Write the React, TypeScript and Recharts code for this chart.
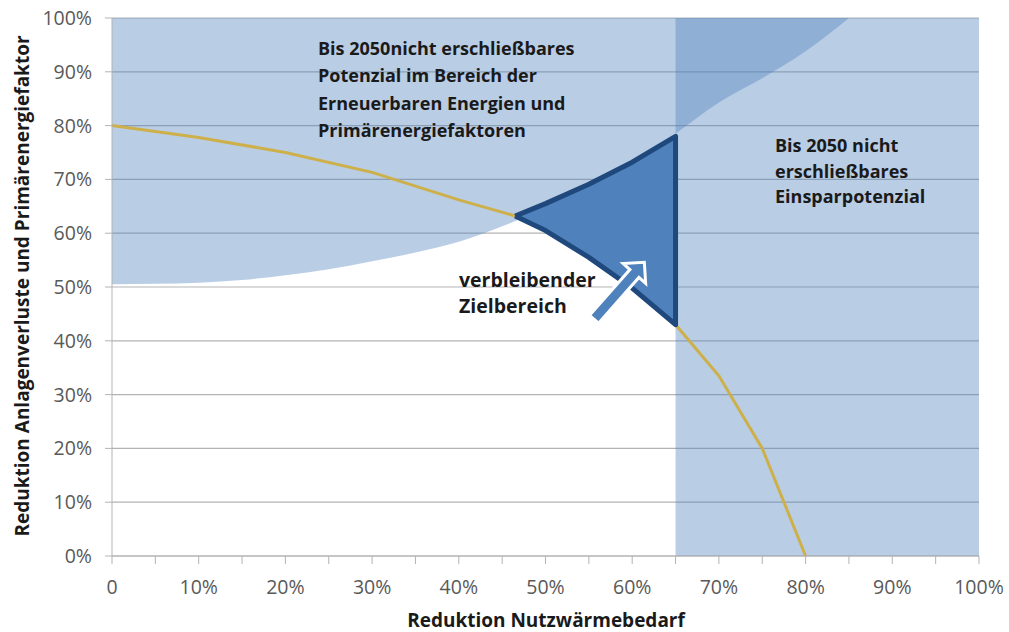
import React from 'react';
import { ComposedChart, Area, Line, XAxis, YAxis, CartesianGrid, ReferenceLine } from 'recharts';

// Achsen
const xTicks = [0, 5, 10, 15, 20, 25, 30, 35, 40, 45, 50, 55, 60, 65, 70, 75, 80, 85, 90, 95, 100];
const yTicks = [0, 10, 20, 30, 40, 50, 60, 70, 80, 90, 100];

// nicht erschließbares Potenzial (EE / Primärenergiefaktoren): untere Grenze, oben 100 %
const potX = [0, 5, 10, 15, 20, 25, 30, 35, 40, 45, 50, 55, 60, 65, 70, 75, 80, 85];
const potLow = [50.5, 50.6, 50.8, 51.3, 52.2, 53.3, 54.8, 56.4, 58.4, 61.3, 64.6, 68.4, 72.8, 78.5, 84.3, 88.8, 93.8, 100];

// nicht erschließbares Einsparpotenzial
const saveX = [65, 100];

// Kurve Reduktion Nutzwärme vs. Anlagenverluste
const curveX = [0, 10, 20, 30, 40, 46.5, 50, 55, 60, 65, 70, 75, 80];
const curveY = [80, 77.8, 75, 71.3, 66.2, 63.2, 60.5, 55.5, 49.8, 43, 33.5, 20, 0];

// verbleibender Zielbereich
const targetX = [46.5, 50, 55, 60, 65];
const targetUpper = [63.2, 65.5, 69.1, 73.2, 78];
const targetLower = [63.2, 60.5, 55.5, 49.8, 43];

// Pfeil (Start / Spitze)
const arrowFrom = { x: 55.6, y: 44.0 };
const arrowTo = { x: 61.4, y: 54.6 };

const potData = potX.map((x, i) => ({ x, range: [potLow[i], 100] }));
const saveData = saveX.map((x) => ({ x, range: [0, 100] }));
const curveData = curveX.map((x, i) => ({ x, y: curveY[i] }));
const targetData = targetX.map((x, i) => ({ x, range: [targetLower[i], targetUpper[i]] }));
const outlineData = [
  ...targetX.map((x, i) => ({ x, y: targetUpper[i] })),
  ...targetX.map((x, i) => ({ x, y: targetLower[i] })).reverse(),
];

const BLUE = '#4F81BD';
const NAVY = '#1F497D';
const GOLD = '#CDB04A';
const GREY = '#B3B3B3';
const TICK = '#595959';

const Arrow = (props: any) => {
  const { x1, y1, x2, y2 } = props;
  const dx = x2 - x1;
  const dy = y2 - y1;
  const len = Math.hypot(dx, dy);
  const ux = dx / len;
  const uy = dy / len;
  const nx = -uy;
  const ny = ux;
  const sw = 6;
  const hw = 15;
  const hl = 15;
  const bx = x2 - ux * hl;
  const by = y2 - uy * hl;
  const pts = [
    [x1 + nx * sw, y1 + ny * sw],
    [bx + nx * sw, by + ny * sw],
    [bx + nx * hw, by + ny * hw],
    [x2, y2],
    [bx - nx * hw, by - ny * hw],
    [bx - nx * sw, by - ny * sw],
    [x1 - nx * sw, y1 - ny * sw],
  ];
  return (
    <polygon
      points={pts.map((p) => p.join(',')).join(' ')}
      fill={BLUE}
      stroke="#ffffff"
      strokeWidth={3}
    />
  );
};

const note: React.CSSProperties = { fontWeight: 700, fontSize: 18, fill: '#1a1a1a' };

export default function App() {
  return (
    <div
      style={{
        position: 'absolute',
        left: 0,
        top: 0,
        width: 1009,
        height: 632,
        background: '#ffffff',
        fontFamily: '"Open Sans", sans-serif',
      }}
    >
      <ComposedChart width={1009} height={632} margin={{ top: 18, right: 30, bottom: 36, left: 42 }}>
        <CartesianGrid vertical={false} stroke={GREY} strokeWidth={1.2} />
        <XAxis
          type="number"
          dataKey="x"
          domain={[0, 100]}
          ticks={xTicks}
          interval={0}
          height={40}
          stroke={GREY}
          tickSize={8}
          tickMargin={16}
          tick={{ fill: TICK, fontSize: 19.5 }}
          tickFormatter={(v: number) => (v % 10 !== 0 ? '' : v === 0 ? '0' : `${v}%`)}
        />
        <YAxis
          type="number"
          domain={[0, 100]}
          ticks={yTicks}
          interval={0}
          width={70}
          stroke={GREY}
          tickSize={7}
          tickMargin={13}
          tick={{ fill: TICK, fontSize: 19.5 }}
          tickFormatter={(v: number) => `${v}%`}
        />
        <Area
          data={potData}
          dataKey="range"
          type="monotone"
          stroke="none"
          fill={BLUE}
          fillOpacity={0.4}
          isAnimationActive={false}
        />
        <Area
          data={saveData}
          dataKey="range"
          type="linear"
          stroke="none"
          fill={BLUE}
          fillOpacity={0.4}
          isAnimationActive={false}
        />
        <Line
          data={curveData}
          dataKey="y"
          type="linear"
          stroke={GOLD}
          strokeWidth={3}
          dot={false}
          activeDot={false}
          isAnimationActive={false}
        />
        <Area
          data={targetData}
          dataKey="range"
          type="monotone"
          stroke="none"
          fill={BLUE}
          fillOpacity={1}
          isAnimationActive={false}
        />
        <Line
          data={outlineData}
          dataKey="y"
          type="linear"
          stroke={NAVY}
          strokeWidth={5}
          strokeLinejoin="round"
          dot={false}
          activeDot={false}
          isAnimationActive={false}
        />
        <ReferenceLine
          segment={[arrowFrom, arrowTo]}
          ifOverflow="visible"
          shape={Arrow}
        />
      </ComposedChart>
      <svg
        width={1009}
        height={632}
        style={{ position: 'absolute', left: 0, top: 0, pointerEvents: 'none' }}
      >
        <g style={note}>
          <text x={318} y={55}>Bis 2050nicht erschließbares</text>
          <text x={318} y={82}>Potenzial im Bereich der</text>
          <text x={318} y={110}>Erneuerbaren Energien und</text>
          <text x={318} y={137}>Primärenergiefaktoren</text>
          <text x={775} y={152}>Bis 2050 nicht</text>
          <text x={775} y={178}>erschließbares</text>
          <text x={775} y={203}>Einsparpotenzial</text>
          <text x={459} y={287} fontSize={19.5}>verbleibender</text>
          <text x={459} y={313} fontSize={19.5}>Zielbereich</text>
          <text x={546} y={627} textAnchor="middle" fontSize={19}>
            Reduktion Nutzwärmebedarf
          </text>
          <text
            x={0}
            y={0}
            textAnchor="middle"
            fontSize={19}
            transform="translate(29,286) rotate(-90)"
          >
            Reduktion Anlagenverluste und Primärenergiefaktor
          </text>
        </g>
      </svg>
    </div>
  );
}
